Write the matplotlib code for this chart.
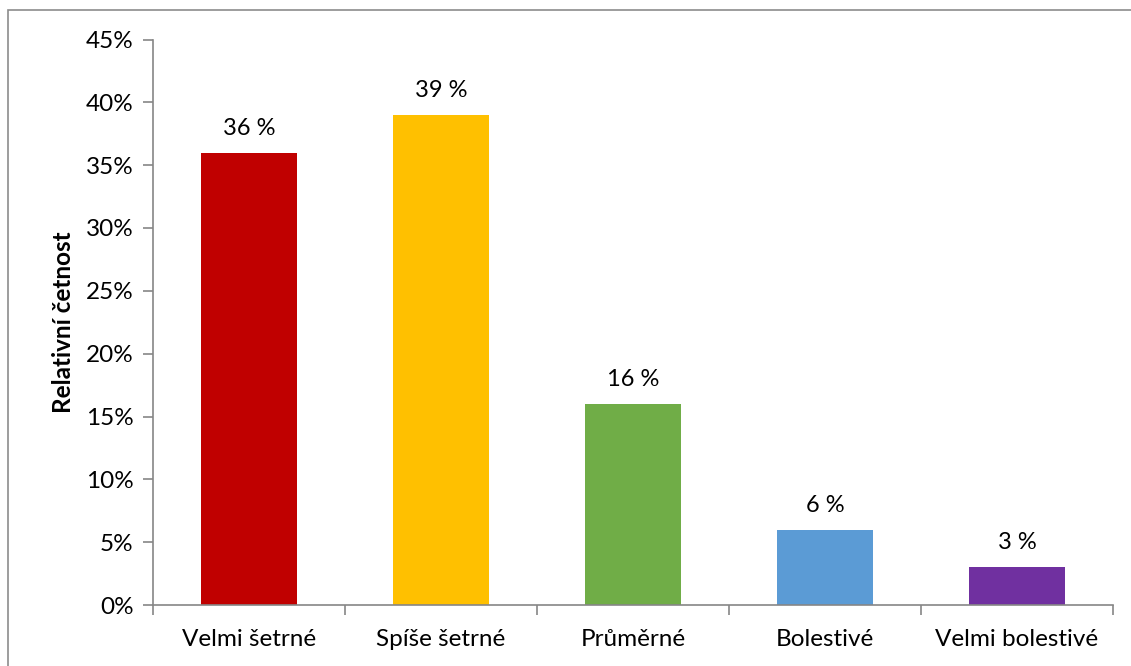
import matplotlib
matplotlib.use("Agg")
import matplotlib.pyplot as plt
from matplotlib.patches import Rectangle
from matplotlib.ticker import FixedLocator, PercentFormatter

categories = ["Velmi šetrné", "Spíše šetrné", "Průměrné", "Bolestivé", "Velmi bolestivé"]
values = [36, 39, 16, 6, 3]
colors = ["#C00000", "#FFC000", "#70AD47", "#5B9BD5", "#7030A0"]
y_ticks = [0, 5, 10, 15, 20, 25, 30, 35, 40, 45]

plt.rcParams["font.family"] = ["Lato", "DejaVu Sans"]

fig = plt.figure(figsize=(11.31, 6.66), dpi=100)
fig.patches.append(Rectangle((8 / 1131, -0.05), 1.2, 1 - 10 / 666 + 0.05,
                             transform=fig.transFigure, fill=False,
                             edgecolor="#8c8c8c", linewidth=1.2))

ax = fig.add_axes([153 / 1131, 1 - 605 / 666, (1113 - 153) / 1131, (605 - 39.5) / 666])
x = list(range(len(categories)))
ax.bar(x, values, width=0.5, color=colors, zorder=2)

for xi, v in zip(x, values):
    ax.annotate(f"{v} %", (xi, v), xytext=(0, 10), textcoords="offset points",
                ha="center", va="bottom", fontsize=17, color="#000000")

ax.set_xlim(-0.5, len(categories) - 0.5)
ax.set_ylim(0, 45)
ax.set_yticks(y_ticks)
ax.yaxis.set_major_formatter(PercentFormatter(decimals=0))
ax.set_xticks(x)
ax.set_xticklabels(categories)
ax.xaxis.set_minor_locator(FixedLocator([i - 0.5 for i in range(len(categories) + 1)]))

for side in ("top", "right"):
    ax.spines[side].set_visible(False)
for side in ("left", "bottom"):
    ax.spines[side].set_color("#868686")
    ax.spines[side].set_linewidth(1.2)

ax.tick_params(axis="y", which="major", length=7, width=1.2, color="#868686",
               labelsize=17.5, pad=7)
ax.tick_params(axis="x", which="major", length=0, labelsize=17.5, pad=17)
ax.tick_params(axis="x", which="minor", length=7, width=1.2, color="#868686")

ax.set_ylabel("Relativní četnost", fontsize=17.5, fontweight="bold", labelpad=8)

fig.savefig("out.png", dpi=100)
